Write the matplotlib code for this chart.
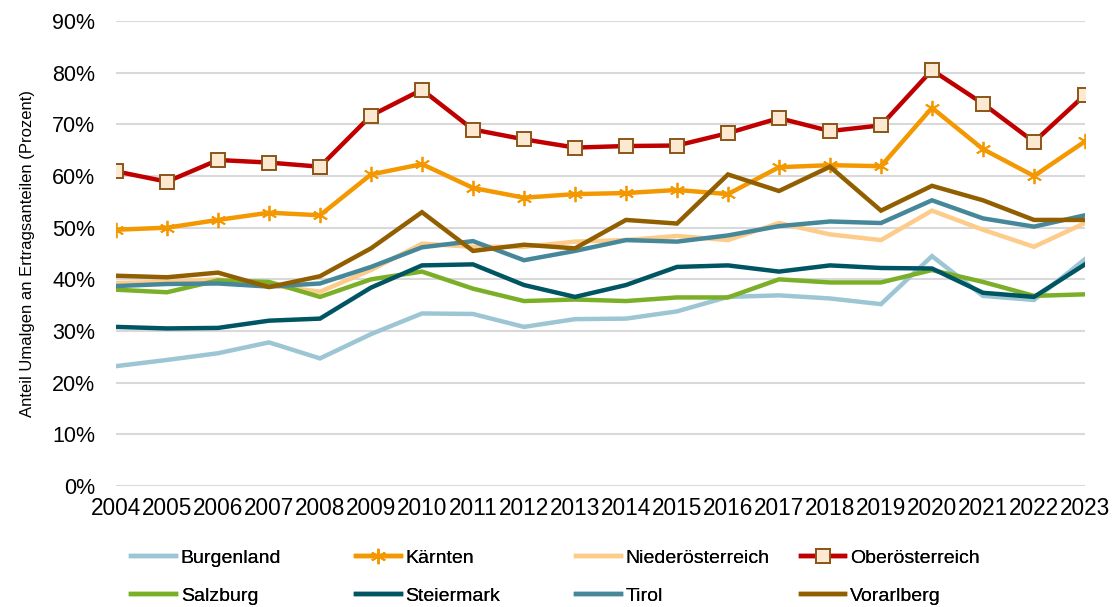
import matplotlib
matplotlib.use("Agg")
import matplotlib.pyplot as plt
from matplotlib.ticker import FuncFormatter

plt.rcParams['font.family'] = ['Liberation Sans', 'DejaVu Sans']

years = list(range(2004, 2024))

# Anteil in Prozent
burgenland = [23.2, 24.4, 25.7, 27.8, 24.7, 29.4, 33.4, 33.3, 30.8, 32.3,
              32.4, 33.8, 36.6, 36.9, 36.3, 35.2, 44.5, 36.8, 36.0, 43.9]
kaernten = [49.6, 50.0, 51.5, 52.9, 52.4, 60.3, 62.3, 57.7, 55.8, 56.5,
            56.7, 57.3, 56.5, 61.7, 62.1, 61.9, 73.2, 65.2, 60.0, 66.7]
niederoesterreich = [39.3, 39.5, 40.0, 38.9, 37.6, 41.8, 46.9, 46.3, 46.3, 47.3,
                     47.6, 48.4, 47.6, 50.9, 48.7, 47.6, 53.3, 49.6, 46.3, 50.9]
oberoesterreich = [60.9, 58.9, 63.1, 62.6, 61.8, 71.7, 76.7, 69.0, 67.1, 65.5,
                   65.8, 65.9, 68.3, 71.2, 68.7, 69.8, 80.5, 74.0, 66.6, 75.7]
salzburg = [38.0, 37.5, 39.8, 39.5, 36.6, 40.0, 41.5, 38.2, 35.8, 36.1,
            35.8, 36.5, 36.5, 40.0, 39.4, 39.4, 41.8, 39.5, 36.8, 37.1]
steiermark = [30.8, 30.5, 30.6, 32.0, 32.4, 38.4, 42.7, 42.9, 38.9, 36.6,
              38.9, 42.4, 42.7, 41.5, 42.7, 42.2, 42.1, 37.4, 36.6, 42.9]
tirol = [38.7, 39.1, 39.2, 38.6, 39.2, 42.4, 46.2, 47.4, 43.7, 45.5,
         47.6, 47.3, 48.5, 50.3, 51.2, 50.9, 55.3, 51.8, 50.2, 52.4]
vorarlberg = [40.7, 40.4, 41.3, 38.5, 40.6, 46.0, 53.0, 45.5, 46.7, 46.0,
              51.5, 50.8, 60.3, 57.1, 61.8, 53.3, 58.1, 55.3, 51.5, 51.5]

names = ["Burgenland", "Kärnten", "Niederösterreich", "Oberösterreich",
         "Salzburg", "Steiermark", "Tirol", "Vorarlberg"]
series = [burgenland, kaernten, niederoesterreich, oberoesterreich,
          salzburg, steiermark, tirol, vorarlberg]
colors = ["#9DC6D4", "#F39800", "#FDCB8A", "#C00000",
          "#7BAF27", "#005563", "#468899", "#915F00"]

fig = plt.figure(figsize=(11.12, 6.07), dpi=100)
ax = fig.add_axes([0.1043, 0.1993, 0.8714, 0.7661])

handles = []
for name, vals, col in zip(names, series, colors):
    kw = dict(color=col, lw=3.2, label=name, solid_joinstyle='miter')
    if name == "Kärnten":
        kw.update(marker=(6, 2, 0), markersize=11, markeredgecolor=col, markeredgewidth=1.3)
    elif name == "Oberösterreich":
        kw.update(marker='s', markersize=10, markerfacecolor="#FDE8D2",
                  markeredgecolor="#8A5518", markeredgewidth=1.4)
    h, = ax.plot(years, [v / 100 for v in vals], **kw)
    handles.append(h)

ax.set_xlim(2004, 2023)
ax.set_ylim(0, 0.9)
ax.set_yticks([i / 10 for i in range(10)])
ax.yaxis.set_major_formatter(FuncFormatter(lambda v, p: f"{round(v * 100)}%"))
ax.set_xticks(years)
ax.grid(axis='y', color="#D9D9D9", lw=1.5)
ax.set_axisbelow(True)
for s in ax.spines.values():
    s.set_visible(False)
ax.tick_params(length=0, colors="black")
ax.tick_params(axis='y', pad=15, labelsize=15.5)
ax.tick_params(axis='x', pad=8, labelsize=16.3)
ax.set_ylabel("Anteil Umalgen an Ertragsanteilen (Prozent)", fontsize=12, labelpad=12)

# Legende: vier Spalten mit gleicher Breite
col_x = [0.111, 0.313, 0.511, 0.713]
for i, x in enumerate(col_x):
    hs = [handles[i], handles[i + 4]]
    leg = fig.legend(handles=hs, loc='upper left', bbox_to_anchor=(x, 0.108),
                     frameon=False, fontsize=14, handlelength=2.3,
                     handletextpad=0.25, labelspacing=1.05, borderaxespad=0)
    fig.add_artist(leg)

fig.savefig("out.png", dpi=100)
